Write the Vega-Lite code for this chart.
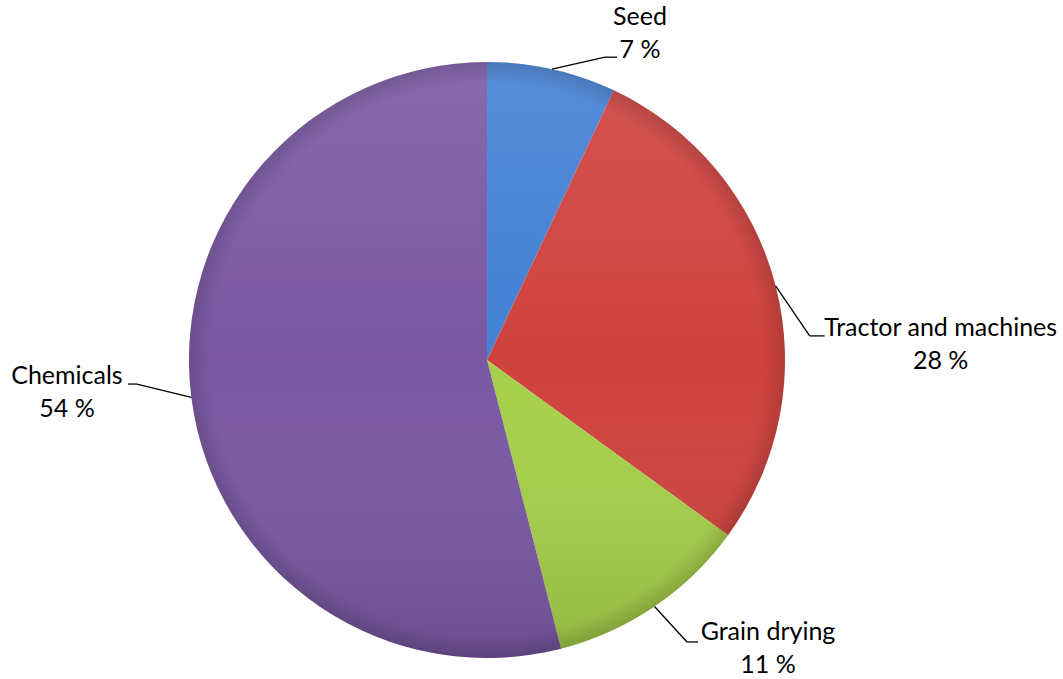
{
  "$schema": "https://vega.github.io/schema/vega-lite/v6.json",
  "width": 974,
  "height": 638,
  "autosize": {"type": "none"},
  "padding": {"left": 0, "top": 41, "right": 89, "bottom": 0},
  "background": "white",
  "config": {"view": {"stroke": null}, "text": {"font": "Lato"}},
  "data": {"values": [
    {"category": "Seed", "value": 7},
    {"category": "Tractor and machines", "value": 28},
    {"category": "Grain drying", "value": 11},
    {"category": "Chemicals", "value": 54}
  ]},
  "transform": [
    {"joinaggregate": [{"op": "sum", "field": "value", "as": "total"}]},
    {"window": [{"op": "sum", "field": "value", "as": "cum"}], "frame": [null, 0]},
    {"calculate": "(datum.cum - datum.value) / datum.total", "as": "start"},
    {"calculate": "datum.cum / datum.total", "as": "end"},
    {"calculate": "2 * PI * (datum.cum - datum.value / 2) / datum.total", "as": "mid"},
    {"calculate": "sin(datum.mid)", "as": "ex"},
    {"calculate": "cos(datum.mid)", "as": "ey"},
    {"calculate": "[datum.category, datum.value + ' %']", "as": "label"}
  ],
  "layer": [
    {
      "mark": {"type": "arc", "outerRadius": 298},
      "encoding": {
        "theta": {"field": "start", "type": "quantitative", "stack": null, "scale": {"domain": [0, 1]}},
        "theta2": {"field": "end"},
        "color": {
          "field": "category", "type": "nominal", "legend": null,
          "scale": {
            "domain": ["Seed", "Tractor and machines", "Grain drying", "Chemicals"],
            "range": ["#4380d4", "#cf423e", "#a6d04a", "#7a58a3"]
          }
        }
      }
    },
    {
      "transform": [{"aggregate": [{"op": "sum", "field": "value", "as": "all"}]}],
      "mark": {
        "type": "arc", "theta": 0, "theta2": 6.2832, "outerRadius": 298,
        "fill": {
          "gradient": "linear", "x1": 0, "y1": 0, "x2": 0, "y2": 1,
          "stops": [
            {"offset": 0, "color": "rgba(255,255,255,0.1)"},
            {"offset": 0.5, "color": "rgba(255,255,255,0)"},
            {"offset": 1, "color": "rgba(0,0,0,0.12)"}
          ]
        }
      },
      "encoding": {}
    },
    {
      "transform": [{"aggregate": [{"op": "sum", "field": "value", "as": "all"}]}],
      "mark": {
        "type": "arc", "theta": 0, "theta2": 6.2832, "outerRadius": 298,
        "fill": {
          "gradient": "radial", "x1": 0.5, "y1": 0.5, "r1": 0, "x2": 0.5, "y2": 0.5, "r2": 0.5,
          "stops": [
            {"offset": 0, "color": "rgba(0,0,0,0)"},
            {"offset": 0.93, "color": "rgba(0,0,0,0)"},
            {"offset": 1, "color": "rgba(0,0,0,0.14)"}
          ]
        }
      },
      "encoding": {}
    },
    {
      "transform": [{"filter": "datum.category == 'Seed'"}],
      "encoding": {
        "x": {"field": "ex", "type": "quantitative", "axis": null, "scale": {"domain": [-1.6342, 1.6342], "nice": false, "zero": false}},
        "y": {"field": "ey", "type": "quantitative", "axis": null, "scale": {"domain": [-1.0705, 1.0705], "nice": false, "zero": false}}
      },
      "layer": [
        {"mark": {"type": "rule", "color": "black", "strokeWidth": 1.3, "x2Offset": 53, "y2Offset": -12},
         "encoding": {"x2": {"field": "ex"}, "y2": {"field": "ey"}}},
        {"mark": {"type": "rule", "color": "black", "strokeWidth": 1.3, "xOffset": 53, "yOffset": -12, "x2Offset": 65, "y2Offset": -12},
         "encoding": {"x2": {"field": "ex"}, "y2": {"field": "ey"}}},
        {"mark": {"type": "text", "dx": 88, "dy": -52.5, "align": "center", "baseline": "middle", "fontSize": 25, "lineHeight": 33, "color": "black"},
         "encoding": {"text": {"field": "label"}}}
      ]
    },
    {
      "transform": [{"filter": "datum.category == 'Tractor and machines'"}],
      "encoding": {
        "x": {"field": "ex", "type": "quantitative", "axis": null, "scale": {"domain": [-1.6342, 1.6342], "nice": false, "zero": false}},
        "y": {"field": "ey", "type": "quantitative", "axis": null, "scale": {"domain": [-1.0705, 1.0705], "nice": false, "zero": false}}
      },
      "layer": [
        {"mark": {"type": "rule", "color": "black", "strokeWidth": 1.3, "x2Offset": 34, "y2Offset": 50},
         "encoding": {"x2": {"field": "ex"}, "y2": {"field": "ey"}}},
        {"mark": {"type": "rule", "color": "black", "strokeWidth": 1.3, "xOffset": 34, "yOffset": 50, "x2Offset": 49, "y2Offset": 50},
         "encoding": {"x2": {"field": "ex"}, "y2": {"field": "ey"}}},
        {"mark": {"type": "text", "dx": 165, "dy": 42.5, "align": "center", "baseline": "middle", "fontSize": 25, "lineHeight": 33, "color": "black"},
         "encoding": {"text": {"field": "label"}}}
      ]
    },
    {
      "transform": [{"filter": "datum.category == 'Grain drying'"}],
      "encoding": {
        "x": {"field": "ex", "type": "quantitative", "axis": null, "scale": {"domain": [-1.6342, 1.6342], "nice": false, "zero": false}},
        "y": {"field": "ey", "type": "quantitative", "axis": null, "scale": {"domain": [-1.0705, 1.0705], "nice": false, "zero": false}}
      },
      "layer": [
        {"mark": {"type": "rule", "color": "black", "strokeWidth": 1.3, "x2Offset": 32.5, "y2Offset": 35.5},
         "encoding": {"x2": {"field": "ex"}, "y2": {"field": "ey"}}},
        {"mark": {"type": "rule", "color": "black", "strokeWidth": 1.3, "xOffset": 32.5, "yOffset": 35.5, "x2Offset": 43.5, "y2Offset": 35.5},
         "encoding": {"x2": {"field": "ex"}, "y2": {"field": "ey"}}},
        {"mark": {"type": "text", "dx": 113.5, "dy": 26, "align": "center", "baseline": "middle", "fontSize": 25, "lineHeight": 33, "color": "black"},
         "encoding": {"text": {"field": "label"}}}
      ]
    },
    {
      "transform": [{"filter": "datum.category == 'Chemicals'"}],
      "encoding": {
        "x": {"field": "ex", "type": "quantitative", "axis": null, "scale": {"domain": [-1.6342, 1.6342], "nice": false, "zero": false}},
        "y": {"field": "ey", "type": "quantitative", "axis": null, "scale": {"domain": [-1.0705, 1.0705], "nice": false, "zero": false}}
      },
      "layer": [
        {"mark": {"type": "rule", "color": "black", "strokeWidth": 1.3, "x2Offset": -54.4, "y2Offset": -13.3},
         "encoding": {"x2": {"field": "ex"}, "y2": {"field": "ey"}}},
        {"mark": {"type": "rule", "color": "black", "strokeWidth": 1.3, "xOffset": -54.4, "yOffset": -13.3, "x2Offset": -63.4, "y2Offset": -13.3},
         "encoding": {"x2": {"field": "ex"}, "y2": {"field": "ey"}}},
        {"mark": {"type": "text", "dx": -124.4, "dy": -21.3, "align": "center", "baseline": "middle", "fontSize": 25, "lineHeight": 33, "color": "black"},
         "encoding": {"text": {"field": "label"}}}
      ]
    }
  ]
}
